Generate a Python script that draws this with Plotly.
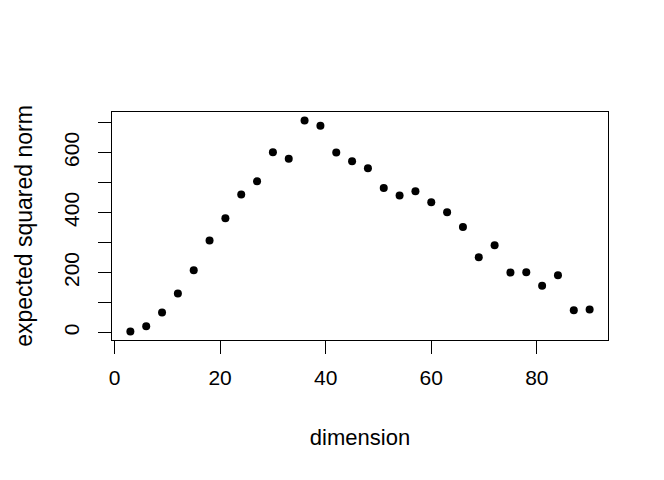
import plotly.graph_objects as go

dimension = [3, 6, 9, 12, 15, 18, 21, 24, 27, 30, 33, 36, 39, 42, 45,
             48, 51, 54, 57, 60, 63, 66, 69, 72, 75, 78, 81, 84, 87, 90]
sq_norm = [4, 21, 67, 130, 208, 307, 381, 460, 504, 601, 579, 707, 689, 600, 571,
           548, 482, 457, 471, 434, 401, 352, 251, 291, 200, 201, 156, 191, 75, 77]

x_ticks = [0, 20, 40, 60, 80]
y_ticks = [0, 100, 200, 300, 400, 500, 600, 700]
y_tick_text = ["0", "", "200", "", "400", "", "600", ""]

FONT = "Liberation Sans, Arial, Helvetica, sans-serif"

fig = go.Figure(go.Scatter(
    x=dimension, y=sq_norm, mode="markers",
    marker=dict(color="black", size=8, line=dict(width=0)),
    showlegend=False,
))

fig.update_layout(
    width=664, height=480,
    margin=dict(l=104, r=64, t=104, b=148),
    paper_bgcolor="white", plot_bgcolor="white",
    font=dict(family=FONT, color="black", size=21),
    xaxis=dict(
        range=[-0.48, 93.48], tickvals=x_ticks, ticks="outside", ticklen=13,
        tickwidth=1, tickcolor="black", showline=True, linecolor="black",
        linewidth=1, mirror=True, showgrid=False, zeroline=False,
        tickfont=dict(size=21), ticklabelstandoff=6,
        title=dict(text="dimension", font=dict(size=22), standoff=41),
    ),
    yaxis=dict(
        range=[-24.5, 735], tickvals=y_ticks, ticktext=y_tick_text,
        ticks="outside", ticklen=13, tickwidth=1, tickcolor="black",
        tickangle=-90, showline=True, linecolor="black", linewidth=1,
        mirror=True, showgrid=False, zeroline=False,
        tickfont=dict(size=21), ticklabelstandoff=11,
        title=dict(text="expected squared norm", font=dict(size=23), standoff=20),
    ),
)

fig.write_html("out.html")
